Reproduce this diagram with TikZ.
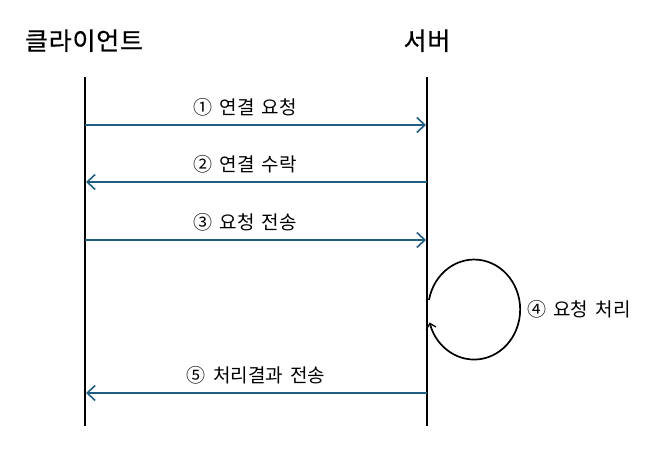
\documentclass[tikz,border=0pt]{standalone}
\usepackage{fontspec}
\setmainfont{Noto Sans CJK KR}
\newfontfamily\titlefont[LetterSpace=3,FakeBold=0.6]{Noto Sans CJK KR}
\usetikzlibrary{arrows.meta}
\definecolor{msgblue}{RGB}{31,94,128}
\newcommand{\gap}{\hspace{0.38em}}
\begin{document}
\begin{tikzpicture}[x=1pt,y=-1pt,
  lifeline/.style={line width=1.8pt,black},
  msg/.style={line width=1.8pt,msgblue,shorten >=1pt,-{Straight Barb[length=8pt,width=15pt,line width=1.6pt]}},
  title/.style={font=\titlefont\fontsize{25}{30}\selectfont,inner sep=0pt,anchor=base},
  lbl/.style={font=\fontsize{19}{23}\selectfont,inner sep=0pt,anchor=base,text=black}]
\useasboundingbox (0,0) rectangle (651,452);
\node[title] (client) at (84,50) {클라이언트};
\node[title] (server) at (427,50) {서버};
\coordinate (ct) at (85,77); \coordinate (cb) at (85,426);
\coordinate (st) at (427,77); \coordinate (sb) at (427,426);
\draw[lifeline] (ct) -- (cb);
\draw[lifeline] (st) -- (sb);
\coordinate (c1) at (85,125); \coordinate (s1) at (427,125);
\coordinate (c2) at (85,182); \coordinate (s2) at (427,182);
\coordinate (c3) at (85,240); \coordinate (s3) at (427,240);
\coordinate (c5) at (85,393); \coordinate (s5) at (427,393);
\draw[msg] (c1) -- (s1);
\draw[msg] (s2) -- (c2);
\draw[msg] (c3) -- (s3);
\draw[msg] (s5) -- (c5);
\node[lbl] (l1) at (245,114) {①\gap 연결\gap 요청};
\node[lbl] (l2) at (245,171) {②\gap 연결\gap 수락};
\node[lbl] (l3) at (245,229) {③\gap 요청\gap 전송};
\node[lbl] (l5) at (256,382) {⑤\gap 처리결과\gap 전송};
\coordinate (ls) at (429,300);
\draw[line width=1.7pt,black,-{Straight Barb[length=5pt,width=10pt,line width=1.3pt]}]
  (ls) arc[start angle=191,end angle=525,x radius=46,y radius=50];
\node[lbl,anchor=base west] (l4) at (527,316) {④\gap 요청\gap 처리};
\end{tikzpicture}
\end{document}
